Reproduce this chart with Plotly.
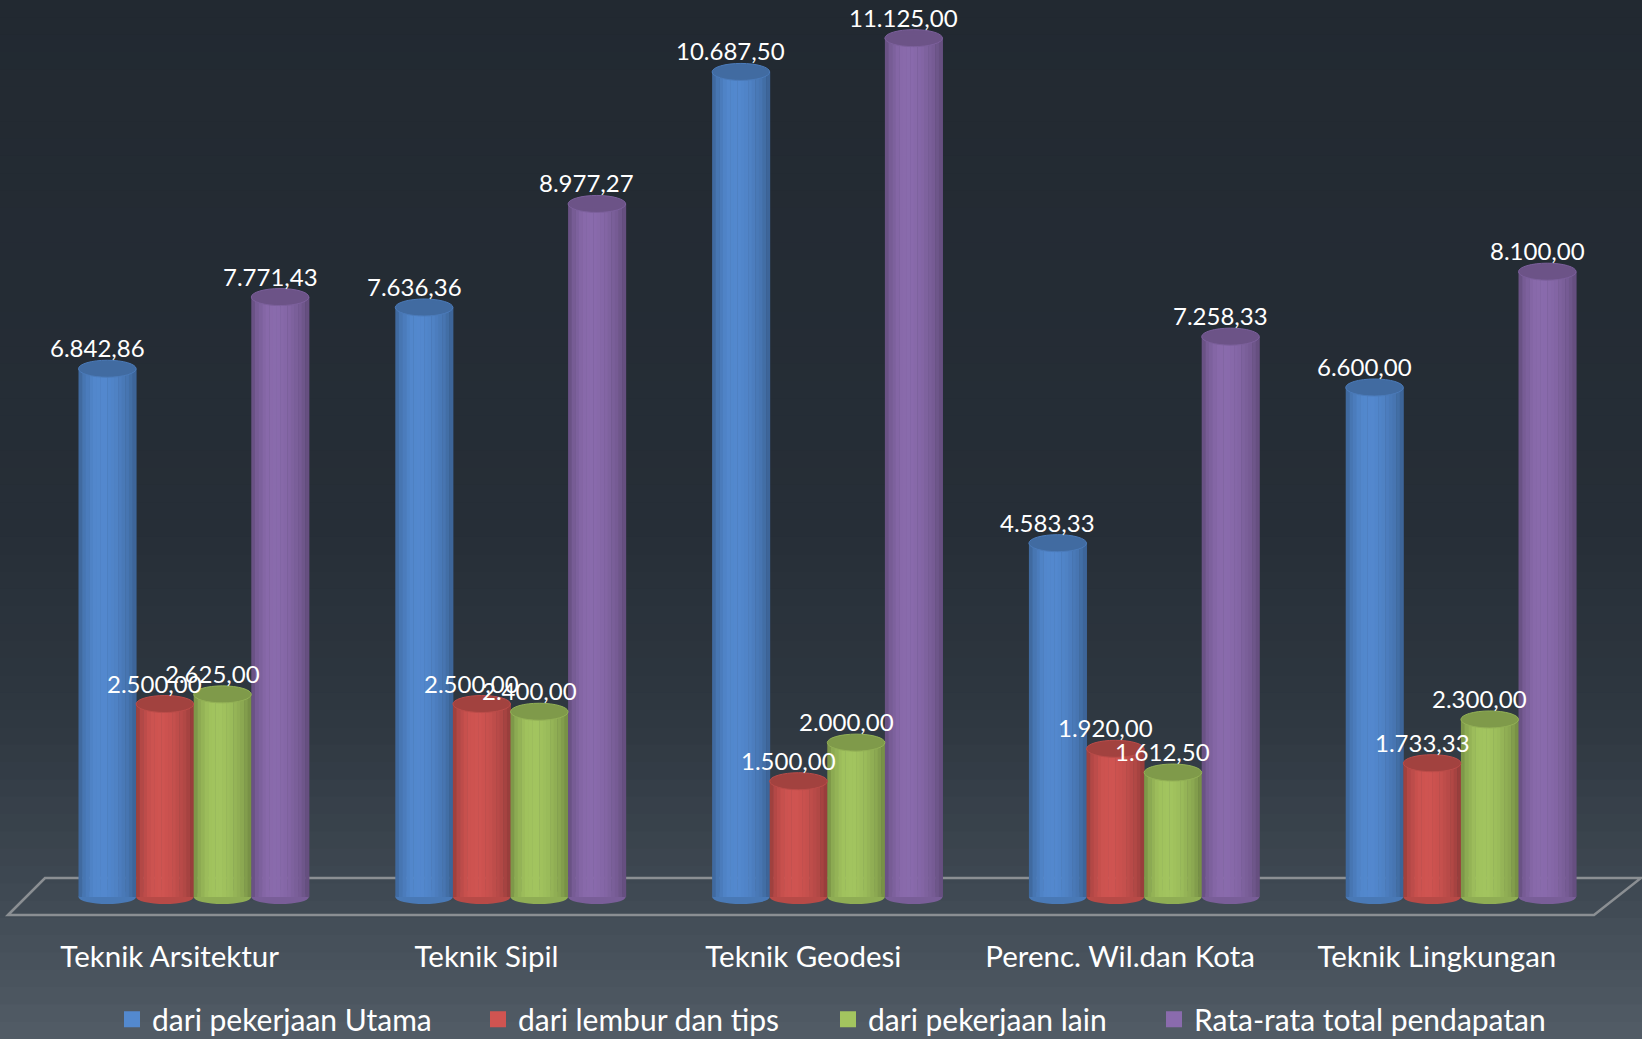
import numpy as np
import plotly.graph_objects as go

# ---------------- data ----------------
categories = ["Teknik Arsitektur", "Teknik Sipil", "Teknik Geodesi",
              "Perenc. Wil.dan Kota", "Teknik Lingkungan"]
series_names = ["dari pekerjaan Utama", "dari lembur dan tips",
                "dari pekerjaan lain", "Rata-rata total pendapatan"]
utama = [6842.86, 7636.36, 10687.50, 4583.33, 6600.00]
lembur = [2500.00, 2500.00, 1500.00, 1920.00, 1733.33]
lain = [2625.00, 2400.00, 2000.00, 1612.50, 2300.00]
total = [7771.43, 8977.27, 11125.00, 7258.33, 8100.00]
series_values = [utama, lembur, lain, total]

# ---------------- style ----------------
W, H = 1642, 1039
MB = 109                      # bottom margin -> plot area 0..930 px
PH = H - MB
colors = ["#5389cf", "#d05451", "#a3c55f", "#8a6bad"]
FONT = "Lato"
BW = 0.1818                   # bar width in category units
NSTRIP = 16
legend_left_px = [124, 490, 840, 1166]   # left edge of each legend swatch


def hex2rgb(h):
    h = h.lstrip("#")
    return np.array([int(h[i:i + 2], 16) for i in (0, 2, 4)], dtype=float)


def rgb(c):
    c = np.clip(c, 0, 255)
    return "rgb(%d,%d,%d)" % tuple(int(round(v)) for v in c)


def shade(h, f):
    return rgb(hex2rgb(h) * f)


def fmt_id(v):
    s = f"{v:,.2f}"
    return s.replace(",", "#").replace(".", ",").replace("#", ".")


# shading profile across a cylinder
prof_t = [0.0, 0.08, 0.25, 0.45, 0.65, 0.85, 0.95, 1.0]
prof_f = [0.72, 0.85, 0.98, 1.0, 0.95, 0.85, 0.76, 0.70]

fig = go.Figure()

xs = np.arange(len(categories))
shapes = []

# background gradient (paper coordinates)
bg_knots = [0.0, 0.5, 0.7, 0.85, 1.0]
bg_cols = [hex2rgb(c) for c in ["#222931", "#262e37", "#2f3841", "#3e4852", "#525c66"]]
NB = 60
for b in range(NB):
    p0 = b / NB * H
    p1 = (b + 1) / NB * H + 1
    fr = (b + 0.5) / NB
    col = np.array([np.interp(fr, bg_knots, [c[k] for c in bg_cols]) for k in range(3)])
    shapes.append(dict(type="rect", xref="paper", yref="paper", x0=-0.01, x1=1.01,
                       y0=(PH - p0) / PH, y1=(PH - p1) / PH, fillcolor=rgb(col),
                       line=dict(width=0), layer="below"))

# floor (parallelogram)
yb = (PH - 878) / PH
yf = (PH - 915) / PH
xbl, xfl, xbr, xfr = 45 / W, 8 / W, 1641 / W, 1594 / W
shapes.append(dict(type="path", xref="paper", yref="paper",
                   path=f"M {xfl},{yf} L {xbl},{yb} L {xbr},{yb} L {xfr},{yf} Z",
                   line=dict(color="#8b8f93", width=2.5), fillcolor="rgba(0,0,0,0)",
                   layer="below"))

annotations = []
legends = {}
for k, (name, vals, c) in enumerate(zip(series_names, series_values, colors)):
    cen = (k - 1.5) * BW
    # bottom ellipses
    for i, v in enumerate(vals):
        shapes.append(dict(type="circle", xref="x", yref="y",
                           x0=i + cen - BW / 2, x1=i + cen + BW / 2,
                           ysizemode="pixel", yanchor=0, y0=-7, y1=7,
                           fillcolor=shade(c, 0.88), line=dict(width=0), layer="below"))
    # body strips
    for j in range(NSTRIP):
        t = (j + 0.5) / NSTRIP
        f = np.interp(t, prof_t, prof_f)
        fig.add_trace(go.Bar(
            x=xs, y=vals, width=[BW / NSTRIP + 0.0015] * len(xs),
            offset=cen - BW / 2 + j * BW / NSTRIP,
            marker=dict(color=shade(c, f), line=dict(width=0)),
            showlegend=False, hoverinfo="skip"))
    # top ellipses + labels
    for i, v in enumerate(vals):
        shapes.append(dict(type="circle", xref="x", yref="y",
                           x0=i + cen - BW / 2, x1=i + cen + BW / 2,
                           ysizemode="pixel", yanchor=v, y0=-8.5, y1=8.5,
                           fillcolor=shade(c, 0.78), line=dict(color=shade(c, 0.9), width=1),
                           layer="above"))
        annotations.append(dict(x=i + cen, y=v, xref="x", yref="y", text=fmt_id(v),
                                showarrow=False, yshift=21, xshift=-10,
                                font=dict(family=FONT, size=24, color="white")))
    # legend entry (one legend box per series, placed like the reference)
    lg = "legend" if k == 0 else f"legend{k + 1}"
    fig.add_trace(go.Scatter(x=[None], y=[None], mode="markers", name=name, legend=lg,
                             marker=dict(symbol="square", size=18, color=c)))
    legends[lg] = dict(orientation="h", xref="container", yref="container",
                       x=(legend_left_px[k] - 12) / W, xanchor="left",
                       y=0.019, yanchor="middle",
                       font=dict(family=FONT, size=30, color="white"),
                       bgcolor="rgba(0,0,0,0)", itemsizing="trace")

fig.update_layout(
    width=W, height=H,
    margin=dict(l=0, r=0, t=0, b=MB),
    barmode="overlay",
    paper_bgcolor="#2c343d",
    plot_bgcolor="rgba(0,0,0,0)",
    shapes=shapes,
    annotations=annotations,
    xaxis=dict(range=[-0.6114, 4.5716], tickvals=[i - 0.0758 for i in xs], ticktext=categories,
               showgrid=False, zeroline=False, showline=False, ticks="",
               tickfont=dict(family=FONT, size=29.5, color="white"), ticklabelstandoff=6),
    yaxis=dict(range=[-427, 11619], visible=False, showgrid=False, zeroline=False),
    showlegend=True,
    **legends,
)

fig.write_html("out.html", config={"displayModeBar": False},
               post_script="document.body.style.margin='0';document.body.style.overflow='hidden';")
